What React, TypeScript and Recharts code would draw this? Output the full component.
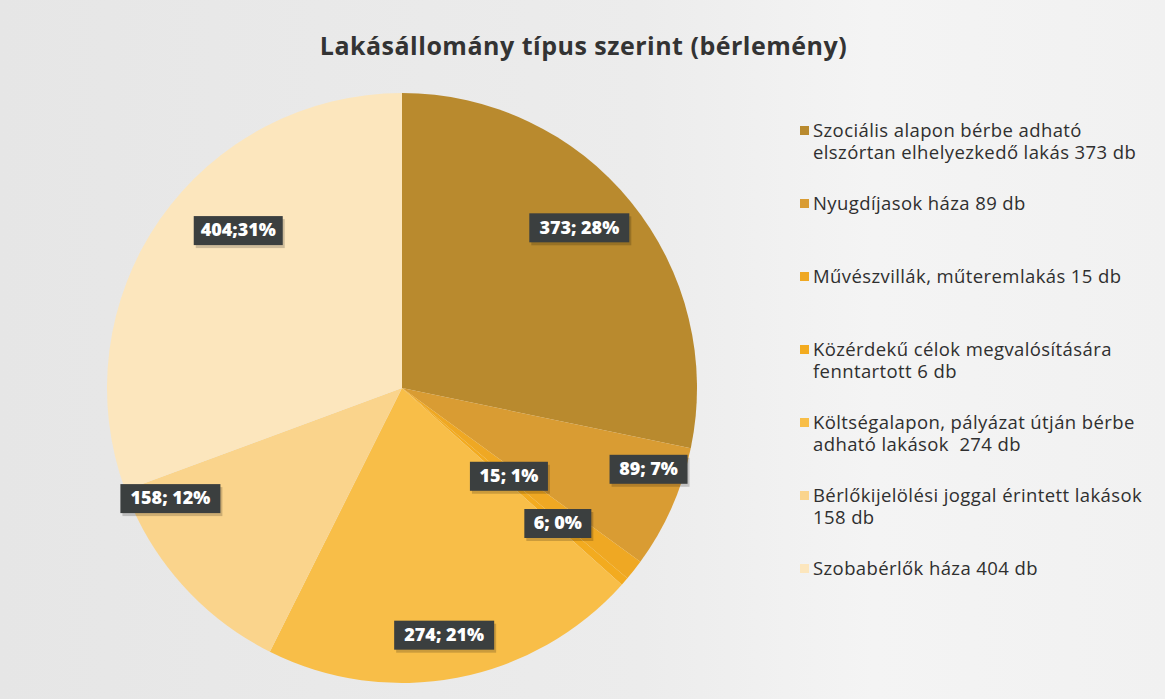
import React from 'react';
import { PieChart, Pie, Cell, Legend } from 'recharts';

const categories = [
  'Szociális alapon bérbe adható\nelszórtan elhelyezkedő lakás 373 db',
  'Nyugdíjasok háza 89 db',
  'Művészvillák, műteremlakás 15 db',
  'Közérdekű célok megvalósítására\nfenntartott 6 db',
  'Költségalapon, pályázat útján bérbe\nadható lakások  274 db',
  'Bérlőkijelölési joggal érintett lakások\n158 db',
  'Szobabérlők háza 404 db',
];
const counts = [373, 89, 15, 6, 274, 158, 404];
const labelTexts = ['373; 28%', '89; 7%', '15; 1%', '6; 0%', '274; 21%', '158; 12%', '404;31%'];

const colors = ['#b98a2e', '#d99c33', '#efa823', '#f3ab1f', '#f8be48', '#fad48c', '#fce6bd'];
// label placement tweaks (radius fraction, angle shift in degrees), Excel "best fit"-like
const labelPlace = [
  [0.81, 3], [0.88, 5.7], [0.47, -1.4], [0.7, 0], [0.85, -1.1], [0.87, -16.3], [0.77, -9],
];

const data = categories.map((name, i) => ({ name, value: counts[i] }));

const RAD = Math.PI / 180;

const renderLabel = (props: any) => {
  const { cx, cy, midAngle, outerRadius, index } = props;
  const [rf, shift] = labelPlace[index];
  const ang = (midAngle + shift) * RAD;
  const r = outerRadius * rf;
  const x = cx + r * Math.cos(ang);
  const y = cy - r * Math.sin(ang);
  const text = labelTexts[index];
  const w = text.length * 11 + 12;
  const h = 29;
  return (
    <g>
      <rect x={x - w / 2 + 2} y={y - h / 2 + 3} width={w} height={h} fill="#000" opacity={0.18} />
      <rect x={x - w / 2} y={y - h / 2} width={w} height={h} fill="#3b3f3f" />
      <text x={x} y={y + 1} fill="#fff" textAnchor="middle" dominantBaseline="middle"
        style={{ fontFamily: 'Open Sans', fontWeight: 800, fontSize: 18 }}>
        {text}
      </text>
    </g>
  );
};

const renderLegend = () => (
  <div style={{ width: 365 }}>
    {categories.map((name, i) => (
      <div key={i} style={{ height: 73, display: 'flex', alignItems: 'flex-start' }}>
        <span style={{ width: 9, height: 9, background: colors[i], marginTop: 7, marginRight: 4, flexShrink: 0 }} />
        <span style={{
          fontFamily: 'Open Sans', fontSize: 18.5, lineHeight: '22px', letterSpacing: 0.4,
          color: '#2f2f2f', whiteSpace: 'pre',
        }}>{name}</span>
      </div>
    ))}
  </div>
);

export default function App() {
  return (
    <div style={{
      position: 'absolute', left: 0, top: 0, width: 1165, height: 699,
      background: 'linear-gradient(90deg, #e6e6e6 0%, #ececec 55%, #f4f4f4 75%, #f1f1f1 100%)',
      overflow: 'hidden',
    }}>
      <div style={{
        position: 'absolute', left: 0, top: 28, width: 1165, textAlign: 'center',
        fontFamily: 'Open Sans', fontWeight: 700, fontSize: 25, letterSpacing: 0.5, color: '#333',
      }}>
        <span style={{ position: 'relative', left: 1 }}>Lakásállomány típus szerint (bérlemény)</span>
      </div>
      <PieChart width={1165} height={699}>
        <Pie
          data={data}
          dataKey="value"
          nameKey="name"
          cx={397}
          cy={383}
          outerRadius={295}
          startAngle={90}
          endAngle={-270}
          stroke="none"
          label={renderLabel}
          labelLine={false}
          isAnimationActive={false}
        >
          {data.map((_, i) => (
            <Cell key={i} fill={colors[i]} />
          ))}
        </Pie>
        <Legend
          layout="vertical"
          align="right"
          verticalAlign="top"
          content={renderLegend}
          wrapperStyle={{ left: 800, top: 119, width: 365 }}
        />
      </PieChart>
    </div>
  );
}
